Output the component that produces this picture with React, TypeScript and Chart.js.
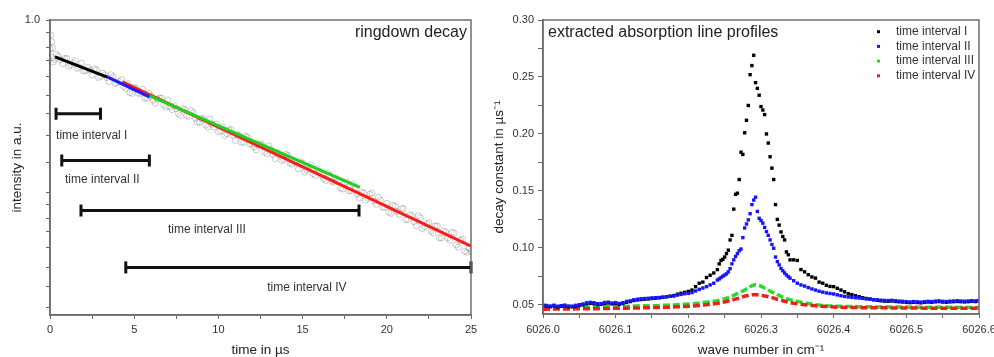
import React, { useEffect, useRef } from 'react';
import { Chart, registerables } from 'chart.js';

Chart.register(...registerables);

const FONT = "'Liberation Sans', Arial, sans-serif";

// ---------------- Left panel: ringdown decay ----------------
const leftPanelTitle = 'ringdown decay';
const leftXTitle = 'time in µs';
const leftYTitle = 'intensity in a.u.';

const decayTime = [
  0, 0.05, 0.1, 0.15, 0.2,
  0.25, 0.5, 0.75, 1, 1.25, 1.5, 1.75, 2, 2.25, 2.5,
  2.75, 3, 3.25, 3.5, 3.75, 4, 4.25, 4.5, 4.75, 5,
  5.25, 5.5, 5.75, 6, 6.25, 6.5, 6.75, 7, 7.25, 7.5,
  7.75, 8, 8.25, 8.5, 8.75, 9, 9.25, 9.5, 9.75, 10,
  10.25, 10.5, 10.75, 11, 11.25, 11.5, 11.75, 12, 12.25, 12.5,
  12.75, 13, 13.25, 13.5, 13.75, 14, 14.25, 14.5, 14.75, 15,
  15.25, 15.5, 15.75, 16, 16.25, 16.5, 16.75, 17, 17.25, 17.5,
  17.75, 18, 18.25, 18.5, 18.75, 19, 19.25, 19.5, 19.75, 20,
  20.25, 20.5, 20.75, 21, 21.25, 21.5, 21.75, 22, 22.25, 22.5,
  22.75, 23, 23.25, 23.5, 23.75, 24, 24.25, 24.5, 24.75, 25,
];
const decayIntensity = [
  0.798, 0.890, 0.843, 0.804, 0.721,
  0.7348, 0.7541, 0.7107, 0.7412, 0.7040, 0.7280, 0.6916, 0.6725, 0.6906, 0.6505,
  0.6783, 0.6443, 0.6514, 0.6179, 0.6424, 0.6136, 0.6280, 0.5856, 0.5680, 0.5906,
  0.5640, 0.5819, 0.5430, 0.5515, 0.5227, 0.5438, 0.5154, 0.5359, 0.4961, 0.5004,
  0.4743, 0.4973, 0.4709, 0.4862, 0.4502, 0.4648, 0.4405, 0.4615, 0.4340, 0.4178,
  0.4346, 0.4119, 0.4250, 0.3904, 0.4062, 0.3850, 0.4006, 0.3797, 0.3626, 0.3800,
  0.3574, 0.3747, 0.3496, 0.3554, 0.3342, 0.3504, 0.3267, 0.3321, 0.3123, 0.3274,
  0.3104, 0.3229, 0.2967, 0.3063, 0.2900, 0.3018, 0.2838, 0.2907, 0.2692, 0.2801,
  0.2634, 0.2781, 0.2571, 0.2609, 0.2452, 0.2567, 0.2431, 0.2506, 0.2319, 0.2390,
  0.2211, 0.2333, 0.2192, 0.2295, 0.2105, 0.2172, 0.2008, 0.2136, 0.1991, 0.2053,
  0.1899, 0.2004, 0.1825, 0.1912, 0.1794, 0.1895, 0.1698, 0.1806, 0.1632, 0.1644,
];
// second sweep of the recorded ringdown (interleaved samples)
const decayTime2 = [
  0.125, 0.375, 0.625, 0.875, 1.125, 1.375, 1.625, 1.875, 2.125, 2.375,
  2.625, 2.875, 3.125, 3.375, 3.625, 3.875, 4.125, 4.375, 4.625, 4.875,
  5.125, 5.375, 5.625, 5.875, 6.125, 6.375, 6.625, 6.875, 7.125, 7.375,
  7.625, 7.875, 8.125, 8.375, 8.625, 8.875, 9.125, 9.375, 9.625, 9.875,
  10.125, 10.375, 10.625, 10.875, 11.125, 11.375, 11.625, 11.875, 12.125, 12.375,
  12.625, 12.875, 13.125, 13.375, 13.625, 13.875, 14.125, 14.375, 14.625, 14.875,
  15.125, 15.375, 15.625, 15.875, 16.125, 16.375, 16.625, 16.875, 17.125, 17.375,
  17.625, 17.875, 18.125, 18.375, 18.625, 18.875, 19.125, 19.375, 19.625, 19.875,
  20.125, 20.375, 20.625, 20.875, 21.125, 21.375, 21.625, 21.875, 22.125, 22.375,
  22.625, 22.875, 23.125, 23.375, 23.625, 23.875, 24.125, 24.375, 24.625, 24.875,
];
const decayIntensity2 = [
  0.7452, 0.7649, 0.7321, 0.7400, 0.6976, 0.7159, 0.6852, 0.7146, 0.6736, 0.6755,
  0.6826, 0.6384, 0.6606, 0.6370, 0.6525, 0.6086, 0.6184, 0.5947, 0.6090, 0.5637,
  0.5863, 0.5641, 0.5429, 0.5645, 0.5348, 0.5395, 0.5441, 0.5075, 0.5077, 0.5120,
  0.4816, 0.5011, 0.4746, 0.4936, 0.4643, 0.4504, 0.4614, 0.4337, 0.4441, 0.4444,
  0.4212, 0.4054, 0.4250, 0.4058, 0.4092, 0.3849, 0.4036, 0.3795, 0.3710, 0.3770,
  0.3772, 0.3520, 0.3634, 0.3390, 0.3500, 0.3369, 0.3478, 0.3243, 0.3271, 0.3299,
  0.3055, 0.3179, 0.3013, 0.3135, 0.2970, 0.2858, 0.2974, 0.2818, 0.2842, 0.2673,
  0.2824, 0.2634, 0.2696, 0.2492, 0.2589, 0.2490, 0.2588, 0.2374, 0.2449, 0.2318,
  0.2229, 0.2352, 0.2245, 0.2296, 0.2105, 0.2189, 0.2072, 0.2171, 0.1961, 0.2038,
  0.1929, 0.2005, 0.1826, 0.1927, 0.1824, 0.1910, 0.1726, 0.1793, 0.1645, 0.1683,
];

const intervalNames = ['time interval I', 'time interval II', 'time interval III', 'time interval IV'];
// exponential fits (straight on the log axis)
const fitStartTime = [0.3, 3.4, 5.9, 4.3];
const fitEndTime = [3.4, 5.9, 18.4, 25];
const fitStartValue = [0.750, 0.642, 0.554, 0.617];
const fitEndValue = [0.640, 0.549, 0.271, 0.171];
const fitColors = ['#000000', '#1a1aff', '#1fd11f', '#ff1a1a'];
const fitOrder = [3, 4, 5, 6];
// interval bars
const intervalStart = [0.36, 0.7, 1.84, 4.5];
const intervalEnd = [3.0, 5.9, 18.35, 25];
const intervalLevel = [0.481, 0.334, 0.226, 0.145];
const intervalLabelTime = [0.36, 0.89, 7.0, 12.9];
const intervalLabelLevel = [0.406, 0.288, 0.195, 0.124];

const leftTickValuesX = [0, 2.5, 5, 7.5, 10, 12.5, 15, 17.5, 20, 22.5, 25];
const leftTickValuesY = [0.106, 0.125, 0.145, 0.169, 0.192, 0.213, 0.237, 0.26, 0.329, 0.406, 0.481, 0.553, 0.642, 0.727, 0.804, 0.904, 1.0];

// ---------------- Right panel: absorption line profiles ----------------
const rightPanelTitle = 'extracted absorption line profiles';
const rightXTitle = 'wave number in cm⁻¹';
const rightYTitle = 'decay constant in µs⁻¹';
const seriesLabels = ['time interval I', 'time interval II', 'time interval III', 'time interval IV'];
const seriesColors = ['#000000', '#1414ff', '#2bd92b', '#e8221a'];

const waveNumbers = [
  6026.000, 6026.005, 6026.010, 6026.015, 6026.020, 6026.025, 6026.030, 6026.035, 6026.040, 6026.045,
  6026.050, 6026.055, 6026.060, 6026.065, 6026.070, 6026.075, 6026.080, 6026.085, 6026.090, 6026.095,
  6026.100, 6026.105, 6026.110, 6026.115, 6026.120, 6026.125, 6026.130, 6026.135, 6026.140, 6026.145,
  6026.150, 6026.155, 6026.160, 6026.165, 6026.170, 6026.175, 6026.180, 6026.185, 6026.190, 6026.195,
  6026.200, 6026.205, 6026.210, 6026.215, 6026.220, 6026.225, 6026.230, 6026.235,
  6026.2400, 6026.2425, 6026.2450, 6026.2475, 6026.2500, 6026.2525, 6026.2550, 6026.2575, 6026.2600, 6026.2625,
  6026.2650, 6026.2675, 6026.2700, 6026.2725, 6026.2750, 6026.2775, 6026.2800, 6026.2825, 6026.2850, 6026.2875,
  6026.2900, 6026.2925, 6026.2950, 6026.2975, 6026.3000, 6026.3025, 6026.3050, 6026.3075, 6026.3100, 6026.3125,
  6026.3150, 6026.3175, 6026.3200, 6026.3225, 6026.3250, 6026.3275, 6026.3300, 6026.3325, 6026.3350, 6026.3375,
  6026.3400,
  6026.345, 6026.350, 6026.355, 6026.360, 6026.365, 6026.370, 6026.375, 6026.380, 6026.385, 6026.390,
  6026.395, 6026.400, 6026.405, 6026.410, 6026.415, 6026.420, 6026.425, 6026.430, 6026.435, 6026.440,
  6026.445, 6026.450, 6026.455, 6026.460, 6026.465, 6026.470, 6026.475, 6026.480, 6026.485, 6026.490,
  6026.495, 6026.500, 6026.505, 6026.510, 6026.515, 6026.520, 6026.525, 6026.530, 6026.535, 6026.540,
  6026.545, 6026.550, 6026.555, 6026.560, 6026.565, 6026.570, 6026.575, 6026.580, 6026.585, 6026.590,
  6026.595, 6026.600,
];

const decayInterval1 = [
  0.0493, 0.0489, 0.0484, 0.0490, 0.0482, 0.0487, 0.0491, 0.0484, 0.0483, 0.0489,
  0.0495, 0.0500, 0.0510, 0.0514, 0.0511, 0.0503, 0.0505, 0.0513, 0.0517, 0.0509,
  0.0513, 0.0505, 0.0512, 0.0523, 0.0529, 0.0538, 0.0543, 0.0547, 0.0550, 0.0552,
  0.0556, 0.0559, 0.0562, 0.0566, 0.0571, 0.0576, 0.0582, 0.0594, 0.0602, 0.0610,
  0.0618, 0.0630, 0.0660, 0.0690, 0.0700, 0.0740, 0.0760, 0.0780,
  0.0810, 0.0860, 0.0890, 0.0900, 0.0920, 0.0950, 0.0980, 0.1070, 0.1110, 0.1340,
  0.1470, 0.1480, 0.1600, 0.1840, 0.1820, 0.2010, 0.2120, 0.2250, 0.2520, 0.2600,
  0.2690, 0.2450, 0.2400, 0.2340, 0.2240, 0.2210, 0.2170, 0.2000, 0.1920, 0.1800,
  0.1700, 0.1600, 0.1380, 0.1250, 0.1200, 0.1140, 0.1100, 0.1070, 0.0965, 0.0940,
  0.0895,
  0.0895, 0.0890, 0.0810, 0.0790, 0.0765, 0.0745, 0.0735, 0.0700, 0.0690, 0.0672,
  0.0662, 0.0660, 0.0645, 0.0630, 0.0615, 0.0598, 0.0590, 0.0580, 0.0572, 0.0563,
  0.0556, 0.0552, 0.0545, 0.0541, 0.0536, 0.0533, 0.0532, 0.0534, 0.0530, 0.0527,
  0.0525, 0.0522, 0.0520, 0.0523, 0.0521, 0.0518, 0.0522, 0.0525, 0.0523, 0.0527,
  0.0529, 0.0525, 0.0523, 0.0526, 0.0528, 0.0530, 0.0528, 0.0526, 0.0528, 0.0531,
  0.0529, 0.0534,
];

const decayInterval2 = [
  0.0500, 0.0495, 0.0490, 0.0497, 0.0488, 0.0493, 0.0498, 0.0490, 0.0489, 0.0496,
  0.0502, 0.0508, 0.0518, 0.0522, 0.0519, 0.0510, 0.0512, 0.0521, 0.0524, 0.0516,
  0.0520, 0.0512, 0.0519, 0.0530, 0.0536, 0.0545, 0.0550, 0.0554, 0.0556, 0.0558,
  0.0561, 0.0563, 0.0565, 0.0568, 0.0572, 0.0575, 0.0578, 0.0586, 0.0592, 0.0598,
  0.0601, 0.0608, 0.0622, 0.0636, 0.0648, 0.0660, 0.0675, 0.0690,
  0.0718, 0.0728, 0.0740, 0.0752, 0.0762, 0.0772, 0.0790, 0.0818, 0.0860, 0.0895,
  0.0925, 0.0950, 0.0975, 0.0990, 0.1090, 0.1175, 0.1210, 0.1246, 0.1300, 0.1380,
  0.1420, 0.1445, 0.1320, 0.1260, 0.1240, 0.1217, 0.1180, 0.1143, 0.1110, 0.1070,
  0.1030, 0.0997, 0.0920, 0.0880, 0.0851, 0.0820, 0.0800, 0.0780, 0.0763, 0.0748,
  0.0734,
  0.0712, 0.0690, 0.0675, 0.0665, 0.0652, 0.0640, 0.0630, 0.0620, 0.0612, 0.0605,
  0.0600, 0.0596, 0.0588, 0.0580, 0.0574, 0.0570, 0.0566, 0.0563, 0.0560, 0.0557,
  0.0553, 0.0550, 0.0546, 0.0543, 0.0541, 0.0539, 0.0538, 0.0540, 0.0536, 0.0533,
  0.0531, 0.0528, 0.0526, 0.0529, 0.0527, 0.0524, 0.0528, 0.0531, 0.0529, 0.0533,
  0.0535, 0.0531, 0.0529, 0.0532, 0.0534, 0.0536, 0.0534, 0.0532, 0.0534, 0.0537,
  0.0535, 0.0540,
];

const decayInterval3 = [
  0.0478, 0.0476, 0.0478, 0.0475, 0.0477, 0.0479, 0.0476, 0.0478, 0.0480, 0.0478,
  0.0481, 0.0480, 0.0482, 0.0481, 0.0483, 0.0484, 0.0482, 0.0485, 0.0486, 0.0484,
  0.0487, 0.0486, 0.0488, 0.0489, 0.0488, 0.0490, 0.0491, 0.0492, 0.0493, 0.0492,
  0.0492, 0.0493, 0.0494, 0.0496, 0.0497, 0.0499, 0.0500, 0.0502, 0.0504, 0.0506,
  0.0508, 0.0510, 0.0513, 0.0516, 0.0520, 0.0524, 0.0528, 0.0532,
  0.0537, 0.0541, 0.0545, 0.0549, 0.0553, 0.0558, 0.0563, 0.0569, 0.0576, 0.0584,
  0.0592, 0.0600, 0.0607, 0.0615, 0.0622, 0.0630, 0.0640, 0.0648, 0.0660, 0.0668,
  0.0674, 0.0676, 0.0674, 0.0670, 0.0664, 0.0655, 0.0648, 0.0640, 0.0630, 0.0622,
  0.0613, 0.0605, 0.0598, 0.0590, 0.0583, 0.0575, 0.0568, 0.0562, 0.0556, 0.0551,
  0.0546,
  0.0538, 0.0531, 0.0524, 0.0518, 0.0512, 0.0506, 0.0502, 0.0498, 0.0495, 0.0492,
  0.0490, 0.0489, 0.0488, 0.0487, 0.0486, 0.0486, 0.0485, 0.0485, 0.0484, 0.0484,
  0.0483, 0.0483, 0.0483, 0.0482, 0.0482, 0.0482, 0.0482, 0.0481, 0.0481, 0.0481,
  0.0481, 0.0481, 0.0480, 0.0481, 0.0480, 0.0480, 0.0480, 0.0480, 0.0480, 0.0479,
  0.0480, 0.0479, 0.0479, 0.0479, 0.0479, 0.0478, 0.0479, 0.0478, 0.0478, 0.0478,
  0.0478, 0.0478,
];

const decayInterval4 = [
  0.0462, 0.0463, 0.0462, 0.0463, 0.0464, 0.0463, 0.0464, 0.0465, 0.0464, 0.0465,
  0.0466, 0.0465, 0.0466, 0.0467, 0.0466, 0.0467, 0.0468, 0.0468, 0.0469, 0.0469,
  0.0470, 0.0470, 0.0471, 0.0471, 0.0472, 0.0472, 0.0473, 0.0474, 0.0474, 0.0475,
  0.0476, 0.0476, 0.0477, 0.0478, 0.0479, 0.0480, 0.0481, 0.0483, 0.0484, 0.0486,
  0.0488, 0.0490, 0.0492, 0.0495, 0.0498, 0.0501, 0.0505, 0.0509,
  0.0513, 0.0516, 0.0519, 0.0522, 0.0526, 0.0530, 0.0534, 0.0538, 0.0542, 0.0546,
  0.0550, 0.0555, 0.0560, 0.0566, 0.0572, 0.0576, 0.0580, 0.0583, 0.0586, 0.0588,
  0.0589, 0.0589, 0.0588, 0.0586, 0.0584, 0.0581, 0.0578, 0.0575, 0.0572, 0.0568,
  0.0564, 0.0559, 0.0554, 0.0549, 0.0545, 0.0540, 0.0536, 0.0532, 0.0528, 0.0524,
  0.0520,
  0.0514, 0.0509, 0.0505, 0.0501, 0.0498, 0.0495, 0.0492, 0.0489, 0.0487, 0.0485,
  0.0483, 0.0482, 0.0480, 0.0479, 0.0478, 0.0477, 0.0477, 0.0476, 0.0476, 0.0475,
  0.0475, 0.0475, 0.0474, 0.0474, 0.0474, 0.0474, 0.0473, 0.0473, 0.0473, 0.0473,
  0.0472, 0.0472, 0.0472, 0.0472, 0.0472, 0.0472, 0.0471, 0.0471, 0.0471, 0.0471,
  0.0471, 0.0471, 0.0471, 0.0471, 0.0470, 0.0471, 0.0470, 0.0471, 0.0470, 0.0470,
  0.0471, 0.0471,
];

const rightTickValuesX = [6026.0, 6026.05, 6026.1, 6026.15, 6026.2, 6026.25, 6026.3, 6026.35, 6026.4, 6026.45, 6026.5, 6026.55, 6026.6];
const rightTickValuesY = [0.05, 0.075, 0.1, 0.125, 0.15, 0.175, 0.2, 0.225, 0.25, 0.275, 0.3];

// ---------------- plugins ----------------
const framePlugin = {
  id: 'frameBox',
  afterDraw(chart: any) {
    const { ctx, chartArea: a } = chart;
    ctx.save();
    ctx.strokeStyle = '#6e6e6e';
    ctx.lineWidth = 1.5;
    ctx.strokeRect(a.left, a.top, a.right - a.left, a.bottom - a.top);
    ctx.restore();
  },
};

const leftTextPlugin = {
  id: 'leftText',
  afterDatasetsDraw(chart: any) {
    const { ctx, chartArea: a } = chart;
    const x = chart.scales.x;
    const y = chart.scales.y;
    ctx.save();
    ctx.fillStyle = '#333';
    ctx.font = `12px ${FONT}`;
    ctx.textBaseline = 'middle';
    ctx.textAlign = 'left';
    intervalNames.forEach((name, i) => {
      ctx.fillText(name, x.getPixelForValue(intervalLabelTime[i]), y.getPixelForValue(intervalLabelLevel[i]));
    });
    ctx.font = `16px ${FONT}`;
    ctx.textAlign = 'right';
    ctx.fillStyle = '#222';
    ctx.fillText(leftPanelTitle, a.right - 4, a.top + 13);
    ctx.restore();
  },
};

const rightTextPlugin = {
  id: 'rightText',
  afterDraw(chart: any) {
    const { ctx, chartArea: a } = chart;
    ctx.save();
    ctx.textBaseline = 'middle';
    ctx.textAlign = 'left';
    ctx.font = `16px ${FONT}`;
    ctx.fillStyle = '#222';
    ctx.fillText(rightPanelTitle, a.left + 5, a.top + 13);
    ctx.font = `12px ${FONT}`;
    seriesLabels.forEach((label, i) => {
      const yy = a.top + 11.7 + i * 14.7;
      ctx.fillStyle = seriesColors[i];
      ctx.fillRect(a.right - 102, yy - 1.5, 3, 3);
      ctx.fillStyle = '#333';
      ctx.fillText(label, a.right - 83, yy);
    });
    ctx.restore();
  },
};

const tickFont = { family: FONT, size: 11 };
const titleFont = { family: FONT, size: 13.5, lineHeight: 1 };

export default function App() {
  const leftRef = useRef<HTMLCanvasElement>(null);
  const rightRef = useRef<HTMLCanvasElement>(null);

  useEffect(() => {
    document.body.style.margin = '0';
    const circles = decayTime
      .map((t, i) => ({ x: t, y: decayIntensity[i] }))
      .concat(decayTime2.map((t, i) => ({ x: t, y: decayIntensity2[i] })));
    const leftDatasets: any[] = [
      {
        label: 'measured ringdown',
        data: circles,
        showLine: false,
        pointStyle: 'circle',
        pointRadius: 3,
        pointBorderWidth: 0.8,
        pointBorderColor: 'rgba(135,135,135,0.55)',
        pointBackgroundColor: 'rgba(0,0,0,0)',
        order: 20,
      },
    ];
    intervalNames.forEach((name, i) => {
      leftDatasets.push({
        label: name + ' fit',
        data: [
          { x: fitStartTime[i], y: fitStartValue[i] },
          { x: fitEndTime[i], y: fitEndValue[i] },
        ],
        showLine: true,
        borderColor: fitColors[i],
        borderWidth: 3,
        pointRadius: 0,
        order: fitOrder[i],
      });
    });
    intervalNames.forEach((name, i) => {
      leftDatasets.push({
        label: name,
        data: [
          { x: intervalStart[i], y: intervalLevel[i] },
          { x: intervalEnd[i], y: intervalLevel[i] },
        ],
        showLine: true,
        borderColor: '#111',
        borderWidth: 3,
        pointStyle: 'line',
        pointRotation: 90,
        pointRadius: 6,
        pointBorderWidth: 3,
        pointBorderColor: '#111',
        clip: false,
        order: 1,
      });
    });

    const left = new Chart(leftRef.current as HTMLCanvasElement, {
      type: 'scatter',
      data: { datasets: leftDatasets },
      options: {
        responsive: false,
        animation: false,
        events: [],
        layout: { padding: { left: 0, right: 19, top: 20, bottom: 0 } },
        plugins: { legend: { display: false }, tooltip: { enabled: false } },
        scales: {
          x: {
            type: 'linear',
            min: 0,
            max: 25,
            bounds: 'data',
            afterBuildTicks: (s: any) => { s.ticks = leftTickValuesX.map((v) => ({ value: v })); },
            afterFit: (s: any) => { s.height = 42; s.paddingLeft = 0; s.paddingRight = 0; },
            ticks: {
              autoSkip: false, maxRotation: 0, padding: 4, color: '#333', font: tickFont,
              callback: (v: any, i: number) => (i % 2 === 0 ? String(v) : ''),
            },
            grid: { drawOnChartArea: false, drawTicks: true, tickLength: 4, color: '#666' },
            border: { display: true, color: '#666', width: 1.5 },
            title: { display: true, text: leftXTitle, color: '#222', font: titleFont, padding: { top: 0, bottom: 0 } },
          },
          y: {
            type: 'logarithmic',
            min: 0.1,
            max: 1,
            bounds: 'data',
            afterBuildTicks: (s: any) => { s.ticks = leftTickValuesY.map((v) => ({ value: v })); },
            afterFit: (s: any) => { s.width = 50; s.paddingTop = 0; s.paddingBottom = 0; },
            ticks: {
              autoSkip: false, padding: 6, color: '#333', font: tickFont,
              callback: (v: any) => (v === 1 ? '1.0' : ''),
            },
            grid: { drawOnChartArea: false, drawTicks: true, tickLength: 4, color: '#666' },
            border: { display: true, color: '#666', width: 1.5 },
            title: { display: true, text: leftYTitle, color: '#222', font: titleFont, padding: { top: 11, bottom: 0 } },
          },
        },
      } as any,
      plugins: [framePlugin, leftTextPlugin],
    });

    const seriesValues = [decayInterval1, decayInterval2, decayInterval3, decayInterval4];
    const rightDatasets: any[] = seriesLabels.map((label, i) => {
      const data = waveNumbers.map((w, j) => ({ x: w, y: seriesValues[i][j] }));
      if (i < 2) {
        return {
          label, data, showLine: false,
          pointStyle: 'rect', pointRadius: 2.4, pointBorderWidth: 0,
          pointBackgroundColor: seriesColors[i], pointBorderColor: seriesColors[i],
          order: i === 0 ? 2 : 1,
        };
      }
      return {
        label, data, showLine: true,
        borderColor: seriesColors[i], borderWidth: 3.5, borderDash: [7, 3],
        pointRadius: 0,
        order: i === 2 ? 4 : 3,
      };
    });

    const right = new Chart(rightRef.current as HTMLCanvasElement, {
      type: 'scatter',
      data: { datasets: rightDatasets },
      options: {
        responsive: false,
        animation: false,
        events: [],
        layout: { padding: { left: 0, right: 15, top: 20, bottom: 0 } },
        plugins: { legend: { display: false }, tooltip: { enabled: false } },
        scales: {
          x: {
            type: 'linear',
            min: 6026.0,
            max: 6026.6,
            bounds: 'data',
            afterBuildTicks: (s: any) => { s.ticks = rightTickValuesX.map((v) => ({ value: v })); },
            afterFit: (s: any) => { s.height = 43; s.paddingLeft = 0; s.paddingRight = 0; },
            ticks: {
              autoSkip: false, maxRotation: 0, padding: 5, color: '#333', font: tickFont,
              callback: (v: any, i: number) => (i % 2 === 0 ? Number(v).toFixed(1) : ''),
            },
            grid: { drawOnChartArea: false, drawTicks: true, tickLength: 4, color: '#666' },
            border: { display: true, color: '#666', width: 1.5 },
            title: { display: true, text: rightXTitle, color: '#222', font: titleFont, padding: { top: 0, bottom: 0 } },
          },
          y: {
            type: 'linear',
            min: 0.042,
            max: 0.3,
            bounds: 'data',
            afterBuildTicks: (s: any) => { s.ticks = rightTickValuesY.map((v) => ({ value: v })); },
            afterFit: (s: any) => { s.width = 53; s.paddingTop = 0; s.paddingBottom = 0; },
            ticks: {
              autoSkip: false, padding: 4, color: '#333', font: tickFont,
              callback: (v: any, i: number) => (i % 2 === 0 ? Number(v).toFixed(2) : ''),
            },
            grid: { drawOnChartArea: false, drawTicks: true, tickLength: 5, color: '#666' },
            border: { display: true, color: '#666', width: 1.5 },
            title: { display: true, text: rightYTitle, color: '#222', font: titleFont, padding: { top: 3, bottom: 0 } },
          },
        },
      } as any,
      plugins: [framePlugin, rightTextPlugin],
    });

    return () => {
      left.destroy();
      right.destroy();
    };
  }, []);

  return (
    <div style={{ position: 'relative', width: 994, height: 357, background: '#fff', overflow: 'hidden' }}>
      <canvas ref={leftRef} width={490} height={357} style={{ position: 'absolute', left: 0, top: 0 }} />
      <canvas ref={rightRef} width={504} height={357} style={{ position: 'absolute', left: 490, top: 0 }} />
    </div>
  );
}
